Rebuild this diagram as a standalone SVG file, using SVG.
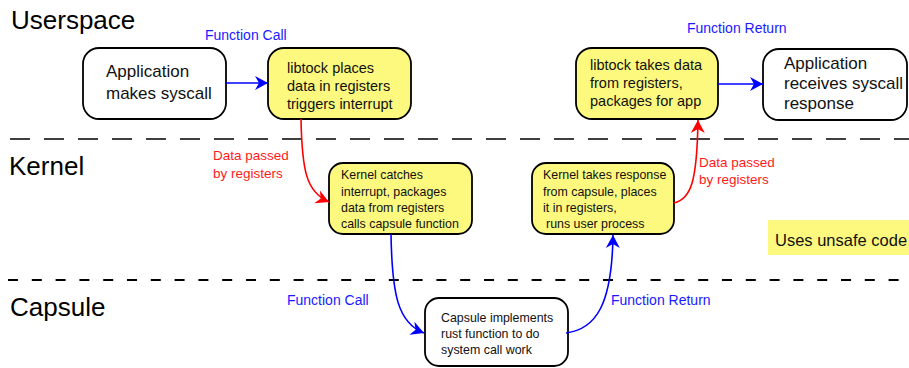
<svg xmlns="http://www.w3.org/2000/svg" width="909" height="368" viewBox="0 0 909 368">
  <style>
    text { font-family: "Liberation Sans", Arial, sans-serif; }
    .title { font-size: 26px; fill: #000; }
    .box { stroke: #000; stroke-width: 1.8; }
    .plain { fill: #fff; }
    .unsafe { fill: #fdf97e; }
    .big { font-size: 17px; fill: #111; }
    .mid { font-size: 14.5px; fill: #111; }
    .small { font-size: 12.4px; fill: #111; }
    .blue-lbl { font-size: 14px; fill: #1a1aff; }
    .red-lbl { font-size: 13.5px; fill: #ff1a1a; }
    .sep { stroke: #000; fill: none; }
    .call { stroke: #0000ff; stroke-width: 1.6; fill: none; marker-end: url(#headBlue); }
    .data { stroke: #ff0000; stroke-width: 1.6; fill: none; marker-end: url(#headRed); }
  </style>
  <defs>
    <marker id="headBlue" markerUnits="userSpaceOnUse" markerWidth="16" markerHeight="16" viewBox="-14 -8 16 16" refX="0" refY="0" orient="auto">
      <path d="M0,0 L-13,-7 L-9,0 L-13,7 Z" fill="#0000ff"/>
    </marker>
    <marker id="headRed" markerUnits="userSpaceOnUse" markerWidth="16" markerHeight="16" viewBox="-14 -8 16 16" refX="0" refY="0" orient="auto">
      <path d="M0,0 L-13,-7 L-9,0 L-13,7 Z" fill="#ff0000"/>
    </marker>
  </defs>

  <!-- layer titles -->
  <text class="title" x="11" y="29">Userspace</text>
  <text class="title" x="9" y="175">Kernel</text>
  <text class="title" x="10" y="316">Capsule</text>

  <!-- layer separators -->
  <line class="sep" x1="10" y1="139" x2="909" y2="139" stroke-width="1.6" stroke-dasharray="20 14"/>
  <line class="sep" x1="8" y1="280" x2="909" y2="280" stroke-width="2" stroke-dasharray="10 13.8"/>

  <!-- legend -->
  <g id="legend">
    <rect x="768" y="220" width="141" height="35" class="unsafe"/>
    <text x="775" y="246" font-size="16.5px" fill="#111">Uses unsafe code</text>
  </g>

  <!-- nodes -->
  <g id="app-syscall">
    <rect class="box plain" x="83" y="48" width="143" height="71" rx="16"/>
    <text class="big" x="106" y="77">Application</text>
    <text class="big" x="106" y="99">makes syscall</text>
  </g>
  <g id="libtock-place">
    <rect class="box unsafe" x="268" y="48" width="143" height="71" rx="16"/>
    <text class="mid" x="287" y="73">libtock places</text>
    <text class="mid" x="287" y="91">data in registers</text>
    <text class="mid" x="287" y="109">triggers interrupt</text>
  </g>
  <g id="libtock-take">
    <rect class="box unsafe" x="576" y="48" width="142" height="71" rx="16"/>
    <text class="mid" x="590" y="70">libtock takes data</text>
    <text class="mid" x="590" y="88">from registers,</text>
    <text class="mid" x="590" y="106">packages for app</text>
  </g>
  <g id="app-response">
    <rect class="box plain" x="763" y="49" width="144" height="71" rx="16"/>
    <text class="big" x="784" y="69">Application</text>
    <text class="big" x="784" y="89">receives syscall</text>
    <text class="big" x="784" y="109">response</text>
  </g>
  <g id="kernel-catch">
    <rect class="box unsafe" x="329" y="163" width="143" height="71" rx="14"/>
    <text class="small" x="341" y="179">Kernel catches</text>
    <text class="small" x="341" y="196">interrupt, packages</text>
    <text class="small" x="341" y="212">data from registers</text>
    <text class="small" x="341" y="228">calls capsule function</text>
  </g>
  <g id="kernel-return">
    <rect class="box unsafe" x="532" y="163" width="142" height="71" rx="14"/>
    <text class="small" x="543" y="179">Kernel takes response</text>
    <text class="small" x="543" y="196">from capsule, places</text>
    <text class="small" x="543" y="212">it in registers,</text>
    <text class="small" x="546" y="228">runs user process</text>
  </g>
  <g id="capsule-work">
    <rect class="box plain" x="425" y="298" width="143" height="68" rx="14"/>
    <text class="small" x="441" y="322">Capsule implements</text>
    <text class="small" x="441" y="338">rust function to do</text>
    <text class="small" x="441" y="354">system call work</text>
  </g>

  <!-- connectors -->
  <g id="connectors">
    <path class="call" d="M226,83 L268,83"/>
    <path class="call" d="M718,84 L763,84"/>
    <path class="data" d="M301,119 C302,170 306,192 329,202"/>
    <path class="data" d="M674,203 C691,199 697,182 698,120"/>
    <path class="call" d="M391,234 C392,295 398,323 424,333"/>
    <path class="call" d="M566,333 C596,329 612,305 613,235"/>

    <text class="blue-lbl" x="205" y="40">Function Call</text>
    <text class="blue-lbl" x="687" y="33">Function Return</text>
    <text class="blue-lbl" x="287" y="305">Function Call</text>
    <text class="blue-lbl" x="611" y="305">Function Return</text>
    <text class="red-lbl" x="213" y="160">Data passed</text>
    <text class="red-lbl" x="213" y="178">by registers</text>
    <text class="red-lbl" x="699" y="167">Data passed</text>
    <text class="red-lbl" x="699" y="184">by registers</text>
  </g>
</svg>
